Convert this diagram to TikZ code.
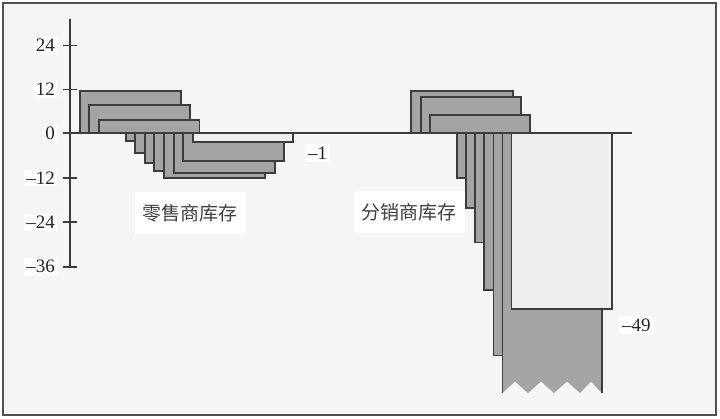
\documentclass[tikz,border=0pt]{standalone}
\usepackage{fontspec}
\setmainfont{Liberation Serif}
\newfontfamily\cjk{Noto Sans CJK SC}
\definecolor{edge}{HTML}{3C3C3C}
\definecolor{bardark}{HTML}{A4A4A4}
\definecolor{barlight}{HTML}{EEEEEE}
\definecolor{bg}{HTML}{F5F5F5}
\tikzset{
  frame/.style={draw=edge!90, line width=2pt, fill=bg},
  axisline/.style={draw=edge, line width=1.8pt},
  darkbar/.style={draw=edge, line width=1.8pt, fill=bardark},
  lightbar/.style={draw=edge, line width=1.8pt, fill=barlight},
  ticklab/.style={anchor=east, fill=white, inner sep=2pt, font=\fontsize{19}{21}\selectfont, text=black!85},
  vallab/.style={anchor=west, fill=white, inner sep=3pt, font=\fontsize{19}{21}\selectfont, text=black!85},
  grouplab/.style={fill=white, inner xsep=8pt, inner ysep=12pt, font=\cjk\fontsize{19}{21}\selectfont, text=black!75}
}
\begin{document}
\begin{tikzpicture}[x=1pt,y=-1pt]
\useasboundingbox (0,0) rectangle (720,418);
\path[frame] (2.5,2.5) rectangle (716,415);

% tick labels
\node[ticklab] (t24) at (57,45.5) {24};
\node[ticklab] (t12) at (57,89.4) {12};
\node[ticklab] (t0) at (57,133.3) {0};
\node[ticklab] (tm12) at (57,177.8) {–12};
\node[ticklab] (tm24) at (57,222.3) {–24};
\node[ticklab] (tm36) at (57,266.7) {–36};

% group labels
\node[grouplab] (retail) at (190,213) {零售商库存};
\node[grouplab] (distr) at (409,212) {分销商库存};

% axes
\draw[axisline] (70,19) -- (70,266.7);
\foreach \y in {45.5,89.4,177.8,222.3,266.7} \draw[axisline] (63,\y) -- (77,\y);
\draw[axisline] (63,133.3) -- (632,133.3);

% retailer: positive bars
\path[darkbar] (80,133.3) rectangle (181,90.7);
\path[darkbar] (89,133.3) rectangle (190,104.7);
\path[darkbar] (99,133.3) rectangle (199.5,120);
% retailer: negative bars
\path[darkbar] (126,133.3) rectangle (227,141);
\path[darkbar] (135,133.3) rectangle (236,153);
\path[darkbar] (145,133.3) rectangle (246,163);
\path[darkbar] (154,133.3) rectangle (255,171);
\path[darkbar] (164,133.3) rectangle (265,178.3);
\path[darkbar] (174,133.3) rectangle (275,172.7);
\path[darkbar] (183,133.3) rectangle (284,160.7);
\path[lightbar] (193,133.3) rectangle (293,141.7);

% distributor: positive bars
\path[darkbar] (411,133.3) rectangle (512.7,91);
\path[darkbar] (421,133.3) rectangle (521,97.3);
\path[darkbar] (430,133.3) rectangle (530,115.3);
% distributor: negative bars
\path[darkbar] (457,133.3) rectangle (558,178);
\path[darkbar] (466,133.3) rectangle (567,207.7);
\path[darkbar] (475,133.3) rectangle (576,242.5);
\path[darkbar] (484,133.3) rectangle (585,290);
\path[darkbar] (493.5,133.3) rectangle (594,355.5);
\fill[bardark] (502.5,133.3) -- (502.5,393) -- (515,381.5) -- (528,393) -- (541,381.5) -- (554,393) -- (567,381.5) -- (580,393) -- (591,381.5) -- (601.7,393) -- (601.7,133.3) -- cycle;
\draw[edge, line width=1.8pt] (502.5,393) -- (502.5,133.3) -- (601.7,133.3) -- (601.7,393);
\path[lightbar] (511.5,133.3) rectangle (611.7,309.3);

% value labels
\node[vallab] (v1) at (305,153) {–1};
\node[vallab] (v49) at (619,325) {–49};
\end{tikzpicture}
\end{document}
